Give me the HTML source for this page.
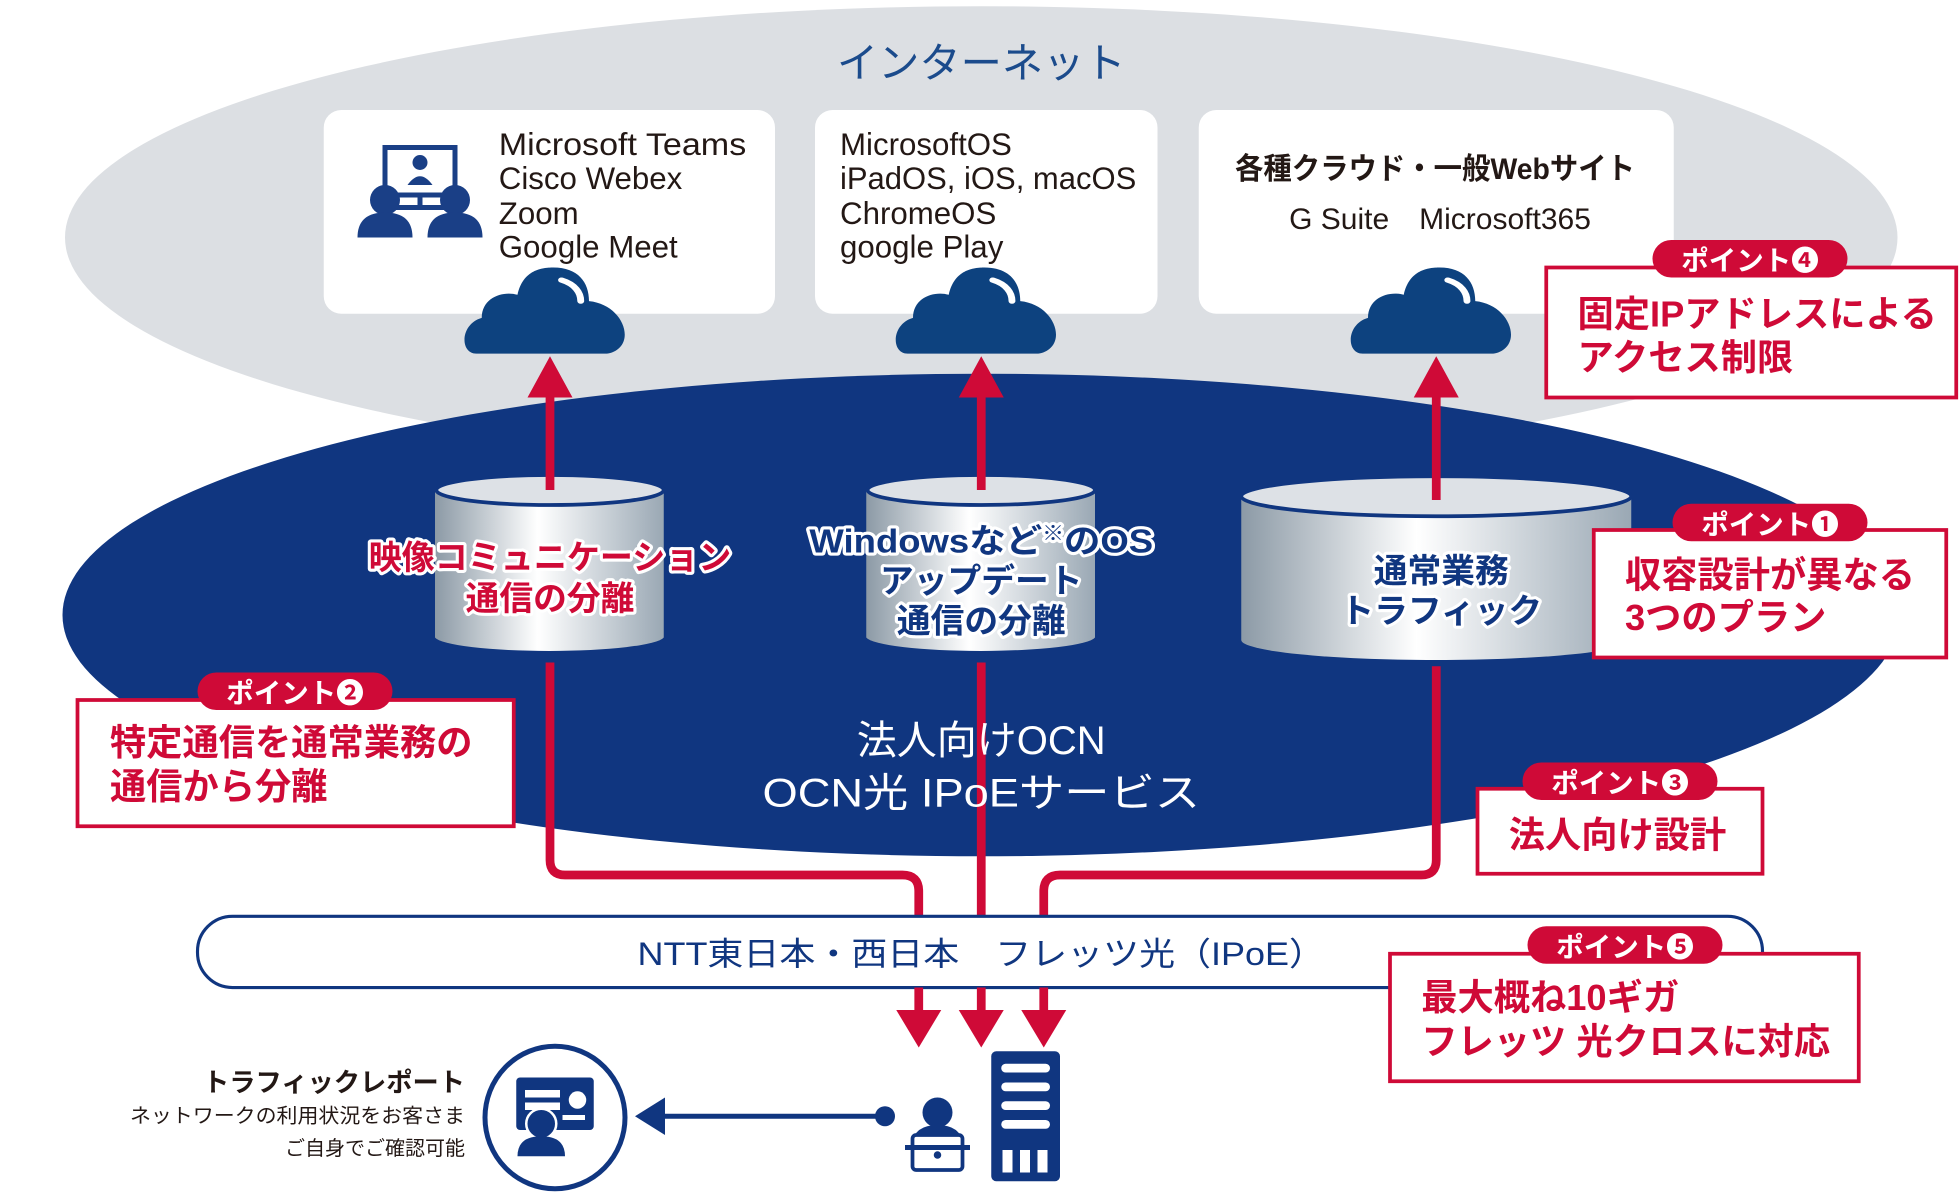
<!DOCTYPE html>
<html><head><meta charset="utf-8"><style>
html,body{margin:0;padding:0;background:#fff;width:1960px;height:1200px;overflow:hidden}
svg{display:block}
text{font-family:"Liberation Sans","Noto Sans CJK JP",sans-serif}
.b{font-weight:bold}
.o{paint-order:stroke;stroke:#fff;stroke-width:5;stroke-linejoin:round}
</style></head><body>
<svg width="1960" height="1200" viewBox="0 0 1568 960" xmlns="http://www.w3.org/2000/svg">
<defs>
<linearGradient id="cyl" x1="0" x2="1" y1="0" y2="0">
<stop offset="0" stop-color="#8c9aa6"/><stop offset="0.45" stop-color="#ffffff"/><stop offset="1" stop-color="#9aa8b4"/>
</linearGradient>
<g id="cloud"><g transform="translate(-4 0) scale(1.1 0.84)"><path d="M-50 32 C-62 32 -62 4 -46 -2 C-46 -22 -30 -28 -20 -24 C-16 -48 -2 -50 6 -50 C24 -50 32 -36 32 -18 C48 -16 58 0 58 14 C58 26 50 32 44 32 Z" fill="#0d427f"/><path d="M12 -38 C22 -34 26 -26 26 -18" stroke="#fff" stroke-width="5" fill="none" stroke-linecap="round"/></g></g>
</defs>
<ellipse cx="785" cy="190" rx="733" ry="185" fill="#dcdfe3"/>
<text x="785" y="62" text-anchor="middle" font-size="33" fill="#1b4b8c">インターネット</text>
<rect x="259" y="88" width="361" height="163" rx="14" fill="#fff"/>
<rect x="652" y="88" width="274" height="163" rx="14" fill="#fff"/>
<rect x="959" y="88" width="380" height="163" rx="14" fill="#fff"/>
<g font-size="25" fill="#231815">
<text x="399" y="124" textLength="198" lengthAdjust="spacingAndGlyphs">Microsoft Teams</text><text x="399" y="151">Cisco Webex</text><text x="399" y="179">Zoom</text><text x="399" y="206">Google Meet</text>
<text x="672" y="124">MicrosoftOS</text><text x="672" y="151" textLength="237" lengthAdjust="spacingAndGlyphs">iPadOS, iOS, macOS</text><text x="672" y="179">ChromeOS</text><text x="672" y="206">google Play</text>
<text x="1148" y="143" text-anchor="middle" class="b" font-size="24" textLength="320" lengthAdjust="spacingAndGlyphs">各種クラウド・一般Webサイト</text>
<text x="1152" y="183" text-anchor="middle" font-size="24">G Suite　Microsoft365</text>
</g>
<g fill="#1a3f86">
<rect x="308" y="118" width="56" height="38" fill="none" stroke="#1a3f86" stroke-width="4"/>
<circle cx="336" cy="130" r="6"/><path d="M326 148 q10 -14 20 0z"/>
<rect x="334" y="156" width="4" height="10"/><rect x="316" y="164" width="40" height="4"/>
<circle cx="308" cy="160" r="12"/><circle cx="364" cy="160" r="12"/>
<path d="M286 190 q0 -20 22 -20 q22 0 22 20z"/><path d="M342 190 q0 -20 22 -20 q22 0 22 20z"/>
</g>
<ellipse cx="785" cy="492" rx="735" ry="193" fill="#103680"/>
<use href="#cloud" x="440" y="256"/><use href="#cloud" x="785" y="256"/><use href="#cloud" x="1149" y="256"/>
<g>
<path d="M348 392 V510 A92 12 0 0 0 531 510 V392Z" fill="url(#cyl)"/>
<ellipse cx="440" cy="392" rx="91" ry="12" fill="#dde1e6" stroke="#103680" stroke-width="3"/>
<path d="M693 392 V510 A92 12 0 0 0 876 510 V392Z" fill="url(#cyl)"/>
<ellipse cx="785" cy="392" rx="91" ry="12" fill="#dde1e6" stroke="#103680" stroke-width="3"/>
<path d="M993 397 V512 A156 16 0 0 0 1305 512 V397Z" fill="url(#cyl)"/>
<ellipse cx="1149" cy="397" rx="156" ry="16" fill="#dde1e6" stroke="#103680" stroke-width="3"/>
</g>
<g stroke="#cf0a37" stroke-width="7" fill="none">
<line x1="440" y1="392" x2="440" y2="310"/><line x1="785" y1="392" x2="785" y2="310"/><line x1="1149" y1="400" x2="1149" y2="310"/>
<path d="M440 530 V688 q0 12 12 12 H722 q13 0 13 13 V735"/>
<path d="M785 530 V735"/>
<path d="M1149 533 V688 q0 12 -12 12 H848 q-13 0 -13 13 V735"/>
</g>
<g fill="#cf0a37">
<path d="M422 318 L440 285 L458 318Z"/><path d="M767 318 L785 285 L803 318Z"/><path d="M1131 318 L1149 285 L1167 318Z"/>
</g>
<g font-size="27" text-anchor="middle" class="b">
<text class="o" x="440" y="455" fill="#cf0a37" textLength="290" lengthAdjust="spacingAndGlyphs">映像コミュニケーション</text>
<text class="o" x="440" y="488" fill="#cf0a37">通信の分離</text>
<text class="o" x="785" y="442" fill="#103680" textLength="275" lengthAdjust="spacingAndGlyphs">Windowsなど<tspan font-size="16" dy="-10">※</tspan><tspan dy="10">のOS</tspan></text>
<text class="o" x="785" y="474" fill="#103680">アップデート</text>
<text class="o" x="785" y="506" fill="#103680">通信の分離</text>
<text class="o" x="1153" y="466" fill="#103680">通常業務</text>
<text class="o" x="1153" y="498" fill="#103680">トラフィック</text>
</g>
<text x="785" y="603" text-anchor="middle" font-size="32" fill="#fff">法人向けOCN</text>
<text x="785" y="645" text-anchor="middle" font-size="32" fill="#fff" textLength="350" lengthAdjust="spacingAndGlyphs">OCN光 IPoEサービス</text>
<rect x="158" y="733" width="1252" height="57" rx="28" fill="#fff" stroke="#103680" stroke-width="2.5"/>
<text x="785" y="772" text-anchor="middle" font-size="26" fill="#103680" textLength="550" lengthAdjust="spacingAndGlyphs">NTT東日本・西日本　フレッツ光（IPoE）</text>
<g stroke="#cf0a37" stroke-width="7"><line x1="735" y1="790" x2="735" y2="812"/><line x1="785" y1="790" x2="785" y2="812"/><line x1="835" y1="790" x2="835" y2="812"/></g>
<g fill="#cf0a37"><path d="M717 808 L753 808 L735 838Z"/><path d="M767 808 L803 808 L785 838Z"/><path d="M817 808 L853 808 L835 838Z"/></g>
<g fill="#fff" stroke="#cf0a37" stroke-width="3">
<rect x="1237" y="214" width="328" height="104"/>
<rect x="1275" y="424" width="282" height="102"/>
<rect x="62" y="560" width="349" height="101"/>
<rect x="1182" y="631" width="228" height="68"/>
<rect x="1112" y="763" width="375" height="102"/>
</g>
<g fill="#cf0a37">
<rect x="1322" y="192" width="156" height="30" rx="15"/>
<rect x="1338" y="403" width="156" height="30" rx="15"/>
<rect x="158" y="538" width="156" height="30" rx="15"/>
<rect x="1218" y="610" width="156" height="30" rx="15"/>
<rect x="1222" y="741" width="156" height="30" rx="15"/>
</g>
<g fill="#fff" font-size="22" class="b" text-anchor="middle">
<text x="1400" y="216">ポイント❹</text><text x="1416" y="427">ポイント❶</text><text x="236" y="562">ポイント❷</text><text x="1296" y="634">ポイント❸</text><text x="1300" y="765">ポイント❺</text>
</g>
<g fill="#cf0a37" font-size="29" class="b">
<text x="1262" y="261">固定IPアドレスによる</text><text x="1262" y="296">アクセス制限</text>
<text x="1300" y="470">収容設計が異なる</text><text x="1300" y="504">3つのプラン</text>
<text x="88" y="604">特定通信を通常業務の</text><text x="88" y="639">通信から分離</text>
<text x="1207" y="678">法人向け設計</text>
<text x="1137" y="808">最大概ね10ギガ</text><text x="1137" y="843">フレッツ 光クロスに対応</text>
</g>
<g text-anchor="end" fill="#231815">
<text x="372" y="873" font-size="21" class="b">トラフィックレポート</text>
<text x="372" y="898" font-size="16" textLength="268" lengthAdjust="spacingAndGlyphs">ネットワークの利用状況をお客さま</text>
<text x="372" y="924" font-size="16">ご自身でご確認可能</text>
</g>
<ellipse cx="444" cy="894" rx="56" ry="57" fill="#fff" stroke="#103680" stroke-width="4"/>
<g fill="#103680">
<rect x="413" y="862" width="62" height="42" rx="3"/>
<rect x="420" y="872" width="28" height="6" fill="#fff"/><rect x="420" y="882" width="28" height="6" fill="#fff"/>
<circle cx="462" cy="880" r="7" fill="#fff"/><rect x="450" y="892" width="18" height="4" fill="#fff"/>
<circle cx="433" cy="899" r="12" stroke="#fff" stroke-width="2"/>
<path d="M414 925 q0 -16 19 -16 q19 0 19 16z"/>
</g>
<line x1="530" y1="893" x2="708" y2="893" stroke="#103680" stroke-width="4"/>
<path d="M508 893 L532 878 L532 908Z" fill="#103680"/>
<circle cx="708" cy="893" r="8" fill="#103680"/>
<g fill="#103680">
<circle cx="750" cy="890" r="12"/>
<path d="M729 920 q0 -20 21 -20 q21 0 21 20z"/>
<rect x="730" y="908" width="40" height="28" rx="3" fill="#fff" stroke="#103680" stroke-width="3"/>
<rect x="724" y="916" width="52" height="4"/>
<circle cx="750" cy="924" r="3"/>
</g>
<rect x="793" y="841" width="55" height="104" rx="4" fill="#103680"/>
<g fill="#fff"><rect x="801" y="851" width="39" height="7" rx="3.5"/><rect x="801" y="866" width="39" height="7" rx="3.5"/><rect x="801" y="881" width="39" height="7" rx="3.5"/><rect x="801" y="896" width="39" height="7" rx="3.5"/>
<rect x="802" y="920" width="8" height="18"/><rect x="816" y="920" width="8" height="18"/><rect x="830" y="920" width="8" height="18"/></g>
</svg>
</body></html>
